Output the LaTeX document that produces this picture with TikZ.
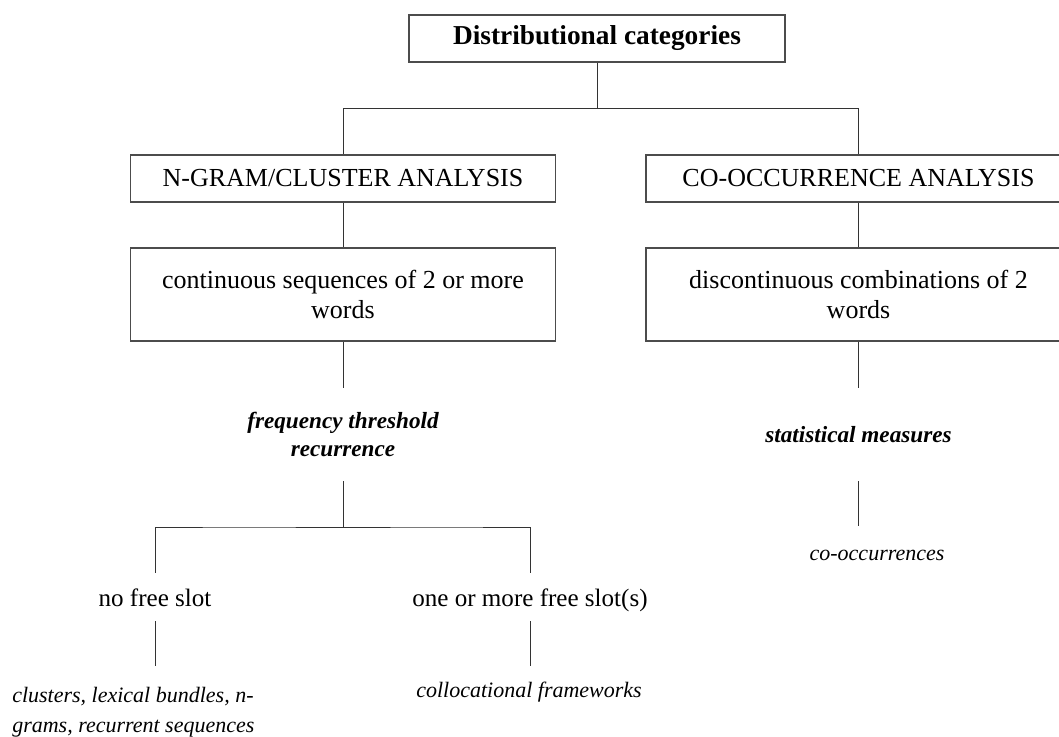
\documentclass[tikz,border=0pt]{standalone}
\usepackage{fontspec}
\setmainfont{Liberation Serif}
\usetikzlibrary{positioning,calc}

\begin{document}
\begin{tikzpicture}[x=0.75pt, y=-0.75pt, node distance=87pt]
    \tikzstyle{block} = [rectangle, minimum width=318.75pt, minimum height=35.25pt, inner sep=0pt, align=center, draw=black!70, line width=0.8pt, font=\fontsize{19.5}{22}\selectfont]
    \tikzstyle{measure} = [minimum height=69.75pt, inner sep=0pt, align=center, font=\fontsize{17.4}{20.5}\selectfont\bfseries\itshape]
    \tikzstyle{option} = [minimum height=36pt, inner sep=0pt, text height=14pt, text depth=0pt, font=\fontsize{18.8}{22}\selectfont]
    \tikzstyle{result} = [inner sep=0pt, align=left, font=\fontsize{16.5}{22.5}\selectfont\itshape]
    \tikzstyle{link} = [draw=black!80, line width=0.7pt]

    \path[use as bounding box] (0,0) rectangle (1059,737);
    \clip (0,0) rectangle (1059,737);

    \node (top) [block, minimum width=282pt, font=\fontsize{20.5}{24}\selectfont\bfseries] at (597,38.5) {Distributional categories};

    \node (ngram) [block] at (343,178.5) {N-GRAM/CLUSTER ANALYSIS};

    \node (cooc) [block] at (858.5,178.5) {CO-OCCURRENCE ANALYSIS};

    \node (cont) [block, below of=ngram, minimum height=69.75pt] {continuous sequences of 2 or more\\words};

    \node (disc) [block, below of=cooc, minimum height=69.75pt] {discontinuous combinations of 2\\words};

    \node (freq) [measure, below of=cont, node distance=105pt] {frequency threshold\\recurrence};

    \node (stat) [measure, below of=disc, node distance=105pt] {statistical measures};

    \node (noslot) [option] at (155,597) {no free slot};

    \node (oneormore) [option] at (530,597) {one or more free slot(s)};

    \coordinate (nsEnd) at ($(noslot.south)+(0,45)$);
    \coordinate (omEnd) at ($(oneormore.south)+(0,45)$);
    \coordinate (stEnd) at ($(stat.south)+(0,45)$);

    \node (clusters) [result, anchor=west] at (12,712) {clusters, lexical bundles, n-\\grams, recurrent sequences};

    \node (colloc) [result, anchor=base] at (529,697) {collocational frameworks};

    \node (cooccur) [result, anchor=base] at (877,560) {co-occurrences};

    \newcommand*{\treelink}[3][]{
        \draw[#1] (#2) |- ($(#2)!0.5!(#3)$) -| (#3);
    }

    \treelink[link]{top.south}{ngram.north}
    \treelink[link]{top.south}{cooc.north}

    \draw [link] (ngram) -- (cont);
    \draw [link] (cooc) -- (disc);
    \draw [link] (cont) -- (freq);
    \draw [link] (disc) -- (stat);

    \treelink[link]{freq.south}{noslot.north}
    \treelink[link]{freq.south}{oneormore.north}

    \draw [link] (noslot) -- (nsEnd);
    \draw [link] (oneormore) -- (omEnd);
    \draw [link] (stat) -- (stEnd);

\end{tikzpicture}
\end{document}
